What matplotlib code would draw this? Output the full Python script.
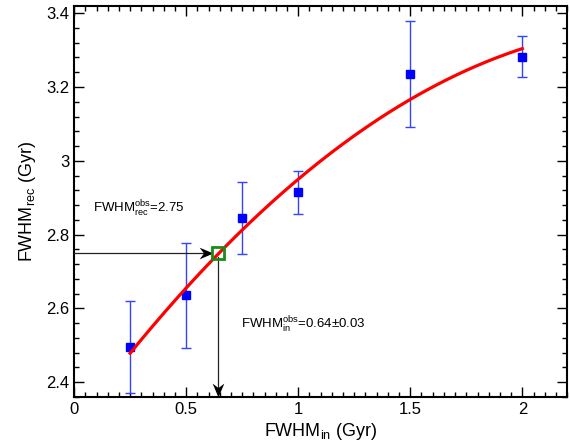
import numpy as np
import matplotlib
matplotlib.use('Agg')
import matplotlib.pyplot as plt
from matplotlib.ticker import MultipleLocator
from matplotlib.path import Path
from matplotlib.markers import MarkerStyle
from matplotlib.transforms import Affine2D

# ── data ──
fwhm_in = [0.25, 0.5, 0.75, 1.0, 1.5, 2.0]
fwhm_rec = [2.495, 2.635, 2.845, 2.915, 3.235, 3.282]
fwhm_err = [0.125, 0.143, 0.097, 0.058, 0.143, 0.055]

# quadratic fit curve (highest power first) and its range
fit_coeffs = [-0.157, 0.825, 2.282]
fit_range = (0.25, 2.0)

# observed point
obs_in = 0.64
obs_rec = 2.75

plt.rcParams.update({
    'font.family': ['Liberation Sans', 'DejaVu Sans'],
    'mathtext.fontset': 'custom',
    'mathtext.rm': 'Liberation Sans',
    'mathtext.it': 'Liberation Sans',
    'mathtext.bf': 'Liberation Sans:bold',
})

fig = plt.figure(figsize=(5.7, 4.47), dpi=100)
ax = fig.add_axes([0.13, 0.112, 0.865, 0.875])

XMIN, XMAX = 0, 2.2
YMIN, YMAX = 2.36, 3.42

# error bars + points
ax.errorbar(fwhm_in, fwhm_rec, yerr=fwhm_err, fmt='s', color='#0000ff',
            ecolor='#3344ff', elinewidth=1, capsize=3.5, capthick=1,
            markersize=5.5, zorder=3)

# fit curve
xf = np.linspace(fit_range[0], fit_range[1], 200)
ax.plot(xf, np.polyval(fit_coeffs, xf), color='#ff0000', linewidth=2.3, zorder=4)

# notched arrow head, tip at origin, pointing right
head = Path([(0, 0), (-1, 0.42), (-0.68, 0), (-1, -0.42), (0, 0)],
            [Path.MOVETO, Path.LINETO, Path.LINETO, Path.LINETO, Path.CLOSEPOLY])
head_right = MarkerStyle(head)
head_down = MarkerStyle(head, transform=Affine2D().rotate_deg(-90))

# arrows to the observed point
tip_x = obs_in - 0.022
ax.plot([XMIN, tip_x - 0.02], [obs_rec, obs_rec], color='#222222', lw=0.9, zorder=5)
ax.plot([tip_x], [obs_rec], marker=head_right, markersize=20, color='black',
        markeredgewidth=0, zorder=5, clip_on=False)
ax.plot([obs_in, obs_in], [obs_rec - 0.012, YMIN + 0.02], color='#222222',
        lw=0.9, zorder=5)
ax.plot([obs_in], [YMIN], marker=head_down, markersize=20, color='black',
        markeredgewidth=0, zorder=5, clip_on=False)
ax.plot([obs_in], [obs_rec], 's', markerfacecolor='none',
        markeredgecolor='#1a8a1a', markeredgewidth=2, markersize=8.5, zorder=6)

ax.text(0.085, 2.87, r'FWHM$^{\rm obs}_{\rm rec}$=2.75', fontsize=9.5,
        ha='left', va='center')
ax.text(0.745, 2.555, r'FWHM$^{\rm obs}_{\rm in}$=0.64$\pm$0.03', fontsize=9.5,
        ha='left', va='center')

ax.set_xlim(XMIN, XMAX)
ax.set_ylim(YMIN, YMAX)
ax.xaxis.set_minor_locator(MultipleLocator(0.05))
ax.yaxis.set_minor_locator(MultipleLocator(0.04))
ax.set_xticks([0, 0.5, 1, 1.5, 2])
ax.set_xticklabels(['0', '0.5', '1', '1.5', '2'])
ax.set_yticks([2.4, 2.6, 2.8, 3.0, 3.2, 3.4])
ax.set_yticklabels(['2.4', '2.6', '2.8', '3', '3.2', '3.4'])
ax.tick_params(which='both', direction='in', top=True, right=True,
               labelsize=12, width=1)
ax.tick_params(which='major', length=7)
ax.tick_params(which='minor', length=3.5)
for sp in ax.spines.values():
    sp.set_linewidth(1.5)

ax.set_xlabel(r'FWHM$_{\rm in}$ (Gyr)', fontsize=13, labelpad=3)
ax.set_ylabel(r'FWHM$_{\rm rec}$ (Gyr)', fontsize=13, labelpad=6)

fig.savefig('out.png', dpi=100)
